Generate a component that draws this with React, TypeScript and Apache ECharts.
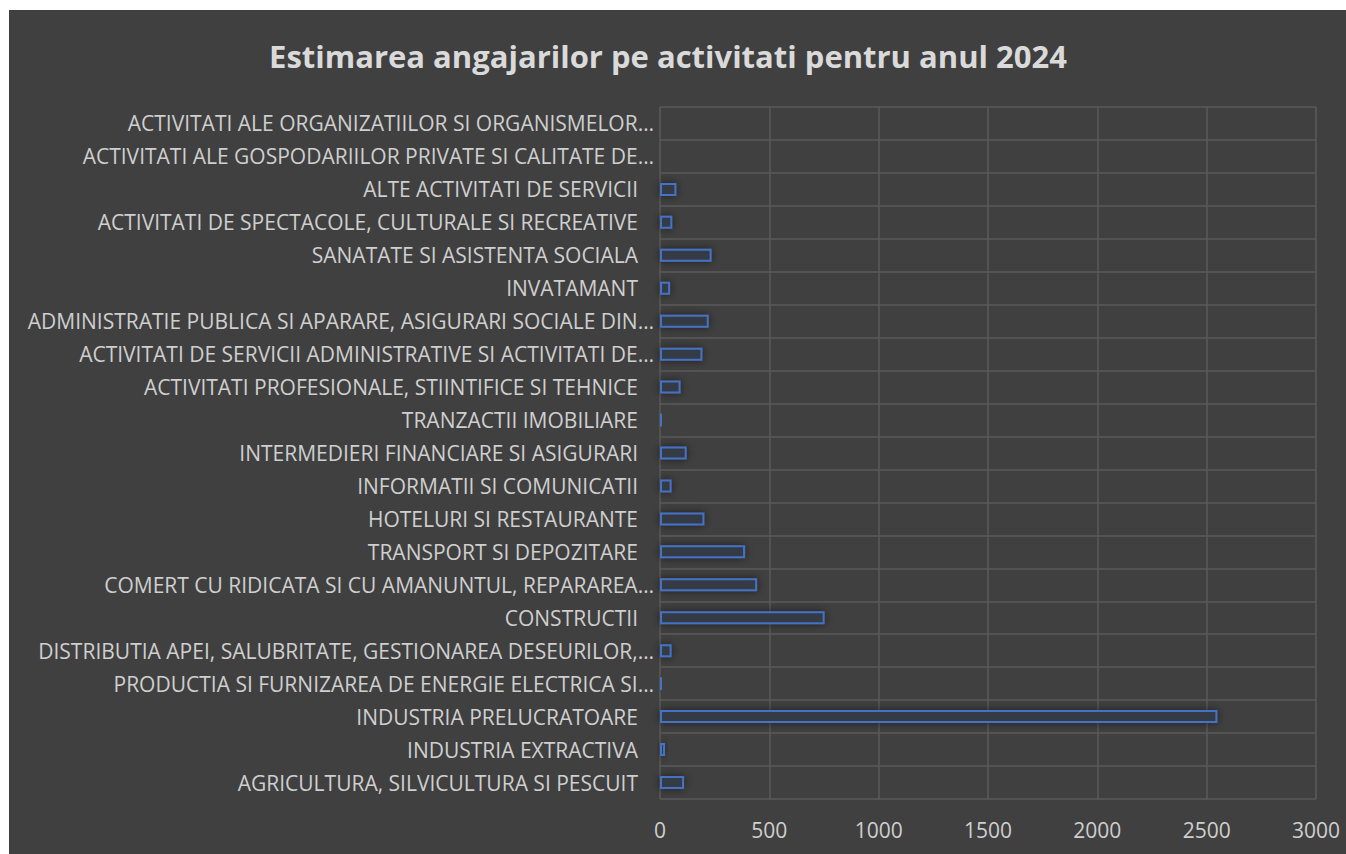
import React, { useEffect, useRef } from "react";
import * as echarts from "echarts";

const TITLE = "Estimarea angajarilor pe activitati pentru anul 2024";

// bottom to top
const categories = [
  "AGRICULTURA, SILVICULTURA SI PESCUIT",
  "INDUSTRIA EXTRACTIVA",
  "INDUSTRIA PRELUCRATOARE",
  "PRODUCTIA SI FURNIZAREA DE ENERGIE ELECTRICA SI…",
  "DISTRIBUTIA APEI, SALUBRITATE, GESTIONAREA DESEURILOR,…",
  "CONSTRUCTII",
  "COMERT CU RIDICATA SI CU AMANUNTUL, REPARAREA…",
  "TRANSPORT SI DEPOZITARE",
  "HOTELURI SI RESTAURANTE",
  "INFORMATII SI COMUNICATII",
  "INTERMEDIERI FINANCIARE SI ASIGURARI",
  "TRANZACTII IMOBILIARE",
  "ACTIVITATI PROFESIONALE, STIINTIFICE SI TEHNICE",
  "ACTIVITATI DE SERVICII ADMINISTRATIVE SI ACTIVITATI DE…",
  "ADMINISTRATIE PUBLICA SI APARARE, ASIGURARI SOCIALE DIN…",
  "INVATAMANT",
  "SANATATE SI ASISTENTA SOCIALA",
  "ACTIVITATI DE SPECTACOLE, CULTURALE SI RECREATIVE",
  "ALTE ACTIVITATI DE SERVICII",
  "ACTIVITATI ALE GOSPODARIILOR PRIVATE SI CALITATE DE…",
  "ACTIVITATI ALE ORGANIZATIILOR SI ORGANISMELOR…",
];

const values = [
  110, 23, 2549, 11, 53, 753, 444, 389, 203, 53, 122, 11, 94, 194, 223, 46, 236,
  56, 75, 0, 0,
];

const xTicks = { min: 0, max: 3000, interval: 500 };

const FONT = "Open Sans";
const LABEL_SIZE = 21;
const LABEL_COLOR = "#cfcfcf";

export default function App() {
  const ref = useRef<HTMLDivElement>(null);
  useEffect(() => {
    if (!ref.current) return;
    const chart = echarts.init(ref.current, null, { renderer: "svg" });
    chart.setOption({
      animation: false,
      backgroundColor: "#404040",
      textStyle: { fontFamily: FONT },
      title: {
        text: TITLE,
        left: 654,
        textAlign: "center",
        top: 25,
        textStyle: {
          fontFamily: FONT,
          fontWeight: "bold",
          fontSize: 31,
          color: "#dadada",
        },
      },
      grid: { left: 651, right: 30, top: 97, bottom: 55 },
      xAxis: {
        type: "value",
        min: xTicks.min,
        max: xTicks.max,
        interval: xTicks.interval,
        axisLine: { show: false },
        axisTick: { show: false },
        axisLabel: {
          color: LABEL_COLOR,
          fontSize: LABEL_SIZE,
          fontFamily: FONT,
          margin: 20,
          formatter: (v: number) => String(v),
        },
        splitLine: { show: true, lineStyle: { color: "#5a5a5a", width: 1.5 } },
      },
      yAxis: {
        type: "category",
        data: categories,
        axisLine: { show: false },
        axisTick: { show: false },
        splitLine: { show: true, lineStyle: { color: "#5a5a5a", width: 1.5 } },
        axisLabel: {
          color: LABEL_COLOR,
          fontSize: LABEL_SIZE,
          fontFamily: FONT,
          margin: 6,
          formatter: (v: string) => (v.endsWith("…") ? `{e|${v}}` : `{n|${v}}`),
          rich: {
            n: {
              color: LABEL_COLOR,
              fontSize: LABEL_SIZE,
              fontFamily: FONT,
              padding: [0, 16, 0, 0],
            },
            e: { color: LABEL_COLOR, fontSize: LABEL_SIZE, fontFamily: FONT },
          },
        },
      },
      series: [
        {
          type: "bar",
          data: values,
          barWidth: 13,
          itemStyle: {
            color: "#343a45",
            borderColor: "#4472C4",
            borderWidth: 2,
            shadowBlur: 8,
            shadowColor: "rgba(0,0,0,0.55)",
          },
        },
      ],
    });
    return () => chart.dispose();
  }, []);
  return (
    <div
      ref={ref}
      style={{ position: "fixed", left: 9, top: 10, width: 1337, height: 844 }}
    />
  );
}
